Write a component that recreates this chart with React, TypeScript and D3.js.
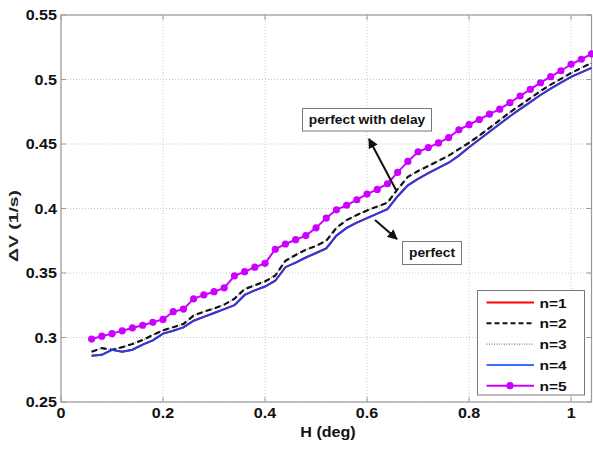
import React from "react";
import * as d3 from "d3";

const hValues = [
  0.06, 0.08, 0.1, 0.12, 0.14, 0.16, 0.18, 0.2, 0.22, 0.24, 0.26, 0.28, 0.3, 0.32, 0.34, 0.36, 0.38, 0.4,
  0.42, 0.44, 0.46, 0.48, 0.5, 0.52, 0.54, 0.56, 0.58, 0.6, 0.62, 0.64, 0.66, 0.68, 0.7, 0.72, 0.74, 0.76,
  0.78, 0.8, 0.82, 0.84, 0.86, 0.88, 0.9, 0.92, 0.94, 0.96, 0.98, 1.0, 1.02, 1.04,
];

const n5 = [
  0.2988, 0.301, 0.303, 0.3052, 0.3074, 0.3095, 0.3118, 0.314, 0.32, 0.322, 0.33, 0.333, 0.3355, 0.3385,
  0.3478, 0.351, 0.3545, 0.3575, 0.3684, 0.3725, 0.3758, 0.379, 0.385, 0.3926, 0.399, 0.4025, 0.4068, 0.4112,
  0.4148, 0.4192, 0.428, 0.4365, 0.444, 0.4472, 0.4508, 0.455, 0.461, 0.465, 0.469, 0.4732, 0.477, 0.482,
  0.4872, 0.4924, 0.4975, 0.5022, 0.5068, 0.5118, 0.5157, 0.5198,
];

const n2 = [
  0.289, 0.2918, 0.2905, 0.2925, 0.295, 0.298, 0.302, 0.3055, 0.308, 0.3105, 0.317, 0.32, 0.3225, 0.3255,
  0.33, 0.3375, 0.3405, 0.3435, 0.348, 0.3595, 0.364, 0.368, 0.371, 0.375, 0.385, 0.391, 0.395, 0.3985,
  0.4015, 0.4045, 0.415, 0.4245, 0.429, 0.433, 0.437, 0.441, 0.446, 0.451, 0.4565, 0.4625, 0.4685, 0.4745,
  0.48, 0.4855, 0.491, 0.496, 0.5005, 0.505, 0.509, 0.5128,
];

const n4 = [
  0.2858, 0.2866, 0.2905, 0.289, 0.2905, 0.2945, 0.2978, 0.303, 0.3052, 0.3078, 0.313, 0.316, 0.319, 0.322,
  0.325, 0.333, 0.3365, 0.3395, 0.344, 0.3545, 0.358, 0.362, 0.3655, 0.369, 0.379, 0.385, 0.389, 0.3925,
  0.396, 0.3995, 0.4095, 0.418, 0.423, 0.4275, 0.4315, 0.4355, 0.441, 0.4475, 0.4535, 0.4595, 0.4655,
  0.4715, 0.477, 0.4825, 0.488, 0.493, 0.4975, 0.502, 0.5055, 0.509,
];

// n=1 and n=3 coincide with n=4 and n=2 respectively (hidden underneath)
const n1 = n4;
const n3 = n2;

const xTicks = [0, 0.2, 0.4, 0.6, 0.8, 1];
const yTicks = [0.25, 0.3, 0.35, 0.4, 0.45, 0.5, 0.55];
const xTickLabels = ["0", "0.2", "0.4", "0.6", "0.8", "1"];
const yTickLabels = ["0.25", "0.3", "0.35", "0.4", "0.45", "0.5", "0.55"];
const legendLabels = ["n=1", "n=2", "n=3", "n=4", "n=5"];

const W = 593;
const H = 454;
const left = 61;
const right = 591.5;
const top = 15;
const bottom = 402;

const FONT = "'Liberation Sans', Arial, sans-serif";
const SX = 1.15;

const MAGENTA = "#cc00ff";
const BLUE = "#1f3fe8";

function T({ x, y, anchor = "start", size = 14, weight = "bold", children, fill = "#111" }: any) {
  return (
    <g transform={`translate(${x},${y}) scale(${SX},1)`}>
      <text x={0} y={0} textAnchor={anchor} fontSize={size} fontWeight={weight} fontFamily={FONT} fill={fill}>
        {children}
      </text>
    </g>
  );
}

export default function App() {
  const x = d3.scaleLinear().domain([0, 1.04]).range([left, right]);
  const y = d3.scaleLinear().domain([0.25, 0.55]).range([bottom, top]);

  const line = (vals: number[]) =>
    d3
      .line<number>()
      .x((_, i) => x(hValues[i]))
      .y((v) => y(v))(vals) as string;

  const legendX0 = 477.5;
  const legendY0 = 290.5;
  const legendW = 107;
  const legendH = 104.5;
  const rowY = (i: number) => legendY0 + 12 + i * 20.8;

  const legendStyles = [
    { stroke: "#ff0000", dash: undefined, width: 2 },
    { stroke: "#111", dash: "5,3", width: 2 },
    { stroke: "#555", dash: "1,1.5", width: 1 },
    { stroke: "#3a70ff", dash: undefined, width: 2 },
    { stroke: MAGENTA, dash: undefined, width: 2 },
  ];

  return (
    <svg width={W} height={H} style={{ position: "absolute", left: 0, top: 0, background: "#fff" }}>
      <defs>
        <marker id="ah" viewBox="0 0 10 10" refX="9" refY="5" markerWidth="5" markerHeight="5" orient="auto">
          <path d="M0,0 L10,5 L0,10 z" fill="#111" />
        </marker>
        <clipPath id="plotclip">
          <rect x={left} y={top - 5} width={right - left + 6} height={bottom - top + 10} />
        </clipPath>
      </defs>
      <rect x={0} y={0} width={W} height={H} fill="#fff" />

      {/* grid */}
      {xTicks.map((t) => (
        <line key={"gx" + t} x1={x(t)} x2={x(t)} y1={top} y2={bottom} stroke="#c8c8c8" strokeWidth={1} strokeDasharray="1,2" />
      ))}
      {yTicks.map((t) => (
        <line key={"gy" + t} x1={left} x2={right} y1={y(t)} y2={y(t)} stroke="#c8c8c8" strokeWidth={1} strokeDasharray="1,2" />
      ))}

      {/* axes box */}
      <rect x={left} y={top} width={right - left} height={bottom - top} fill="none" stroke="#9a9a9a" strokeWidth={1.2} />
      {xTicks.map((t) => (
        <g key={"tx" + t}>
          <line x1={x(t)} x2={x(t)} y1={bottom} y2={bottom - 5} stroke="#9a9a9a" />
          <line x1={x(t)} x2={x(t)} y1={top} y2={top + 5} stroke="#9a9a9a" />
        </g>
      ))}
      {yTicks.map((t) => (
        <g key={"ty" + t}>
          <line x1={left} x2={left + 5} y1={y(t)} y2={y(t)} stroke="#9a9a9a" />
          <line x1={right} x2={right - 5} y1={y(t)} y2={y(t)} stroke="#9a9a9a" />
        </g>
      ))}

      {/* tick labels */}
      {xTicks.map((t, i) => (
        <T key={"lx" + t} x={x(t)} y={418} anchor="middle">
          {xTickLabels[i]}
        </T>
      ))}
      {yTicks.map((t, i) => (
        <T key={"ly" + t} x={57} y={y(t) + 5} anchor="end">
          {yTickLabels[i]}
        </T>
      ))}

      {/* axis labels */}
      <T x={328} y={437} anchor="middle">
        H (deg)
      </T>
      <g transform={`translate(18,226) rotate(-90)`}>
        <text
          x={0}
          y={0}
          textAnchor="middle"
          fontSize={12}
          fontWeight="bold"
          fontFamily={FONT}
          fill="#222"
          textLength={72}
          lengthAdjust="spacingAndGlyphs"
        >
          ΔV (1/s)
        </text>
      </g>

      {/* data */}
      <g clipPath="url(#plotclip)">
        <path d={line(n1)} fill="none" stroke="#ff0000" strokeWidth={2} />
        <path d={line(n3)} fill="none" stroke="#555" strokeWidth={1} strokeDasharray="1,1.5" />
        <path d={line(n2)} fill="none" stroke="#111" strokeWidth={2.2} strokeDasharray="6,3.5" />
        <path d={line(n4)} fill="none" stroke={BLUE} strokeWidth={2} />
        <path d={line(n5)} fill="none" stroke={MAGENTA} strokeWidth={2} />
        {n5.map((v, i) => (
          <circle key={"m" + i} cx={x(hValues[i])} cy={y(v)} r={3.6} fill={MAGENTA} />
        ))}
      </g>

      {/* annotations */}
      <rect x={302.5} y={108.5} width={129} height={22.5} fill="#fff" stroke="#777" strokeWidth={1} />
      <T x={367} y={124} anchor="middle" size={12}>
        perfect with delay
      </T>
      <line x1={396} y1={190} x2={369} y2={139} stroke="#111" strokeWidth={2} markerEnd="url(#ah)" />

      <rect x={402.5} y={241.5} width={59} height={23} fill="#fff" stroke="#777" strokeWidth={1} />
      <T x={432} y={257} anchor="middle" size={12}>
        perfect
      </T>
      <line x1={375} y1={220} x2={397} y2={239} stroke="#111" strokeWidth={2} markerEnd="url(#ah)" />

      {/* legend */}
      <rect x={legendX0} y={legendY0} width={legendW} height={legendH} fill="#fff" stroke="#777" strokeWidth={1} />
      {legendLabels.map((lab, i) => (
        <g key={lab}>
          <line
            x1={486.5}
            x2={534}
            y1={rowY(i)}
            y2={rowY(i)}
            stroke={legendStyles[i].stroke}
            strokeWidth={legendStyles[i].width}
            strokeDasharray={legendStyles[i].dash}
          />
          {i === 4 && <circle cx={510} cy={rowY(i)} r={3.6} fill={MAGENTA} />}
          <T x={539.5} y={rowY(i) + 5} size={13.5}>
            {lab}
          </T>
        </g>
      ))}
    </svg>
  );
}
